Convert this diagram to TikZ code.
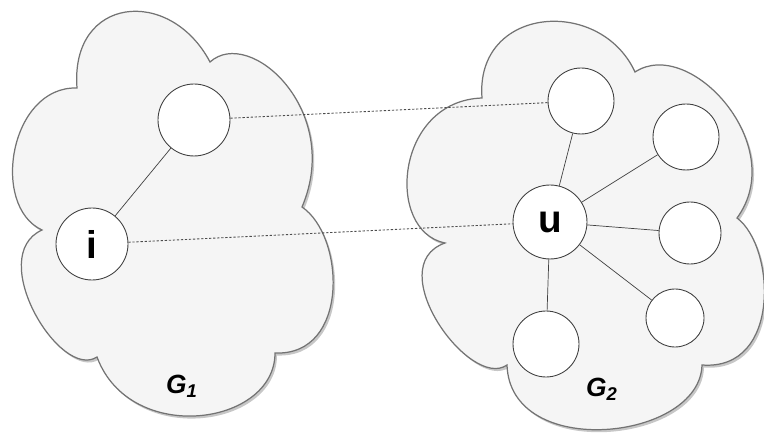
\documentclass[tikz,border=0pt]{standalone}
\usepackage{fontspec}
\setmainfont{Liberation Sans}
\usetikzlibrary{positioning}

% outlines of the two graph regions (units: x=y=0.02cm)
\newcommand{\regionone}{(77,348) .. controls (70,440) and (170,450) .. (210,374)
  .. controls (250,410) and (343,325) .. (302,229)
  .. controls (345,200) and (350,80) .. (275,83)
  .. controls (275,10) and (130,-10) .. (97,79)
  .. controls (60,55) and (-15,180) .. (42,206)
  .. controls (-10,230) and (10,350) .. cycle}
\newcommand{\regiontwo}{(482,338) .. controls (475,430) and (600,440) .. (635,364)
  .. controls (690,400) and (790,290) .. (737,218)
  .. controls (775,190) and (782,65) .. (702,71)
  .. controls (700,-5) and (510,-25) .. (507,71)
  .. controls (470,45) and (380,170) .. (445,193)
  .. controls (385,205) and (395,335) .. cycle}

\begin{document}
\begin{tikzpicture}[x=0.02cm, y=0.02cm,
    blob/.style={draw=black!55, fill=black!4, line width=0.7pt},
    blobshade/.style={fill=black!22},
    vertex/.style={draw=black!75, fill=white, circle, inner sep=0pt,
      line width=0.5pt, font=\fontsize{22}{24}\selectfont\bfseries},
    link/.style={draw=black!75, line width=0.4pt},
    match/.style={draw=black!70, line width=0.5pt, dash pattern=on 1.3pt off 1pt},
    glabel/.style={font=\fontsize{15}{17}\selectfont\bfseries\itshape}]
  \useasboundingbox (0,0) rectangle (764,436);

  % regions with a light drop shadow
  \begin{scope}[shift={(2,-2.5)}]
    \fill[blobshade] \regionone;
    \fill[blobshade] \regiontwo;
  \end{scope}
  \path[blob] \regionone;
  \path[blob] \regiontwo;

  % G1
  \node[vertex, minimum size=1.44cm] (a1) at (194,316) {};
  \node[vertex, minimum size=1.44cm] (i) at (92,192) {i};
  \node[glabel] (g1) at (182,50) {G\textsubscript{1}};

  % G2
  \node[vertex, minimum size=1.32cm] (b1) at (581,335) {};
  \node[vertex, minimum size=1.32cm] (b2) at (686,299) {};
  \node[vertex, minimum size=1.48cm] (u) at (550,214) {u};
  \node[vertex, minimum size=1.24cm] (b3) at (690,203) {};
  \node[vertex, minimum size=1.16cm] (b4) at (675,118) {};
  \node[vertex, minimum size=1.32cm] (b5) at (546,92) {};
  \node[glabel] (g2) at (602,47) {G\textsubscript{2}};

  \draw[link] (i) -- (a1);
  \foreach \v in {b1,b2,b3,b4,b5}
    \draw[link] (u) -- (\v);

  % correspondences
  \draw[match] (a1) -- (b1);
  \draw[match] (i) -- (u);
\end{tikzpicture}
\end{document}
